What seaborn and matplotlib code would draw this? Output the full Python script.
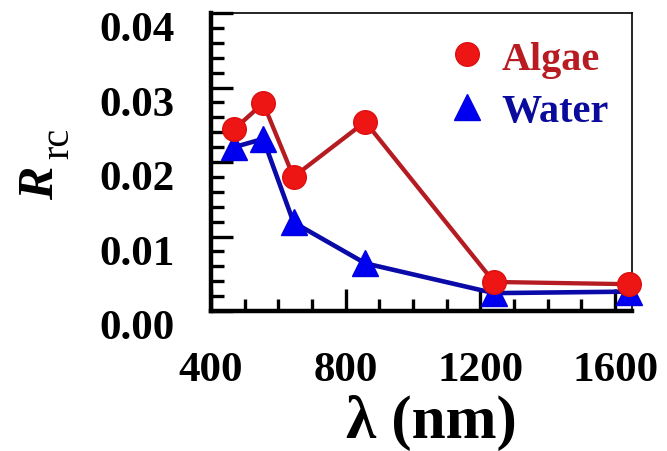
import matplotlib
matplotlib.use("Agg")

import numpy as np
import pandas as pd
import matplotlib.pyplot as plt
import seaborn as sns
from matplotlib.lines import Line2D
from matplotlib.ticker import MultipleLocator, FixedLocator
from matplotlib.transforms import ScaledTranslation

# MODIS band wavelengths (nm)
wavelength = [469, 555, 645, 858, 1240, 1640]
algae = [0.0244, 0.0279, 0.0180, 0.0254, 0.0039, 0.0036]
water = [0.0220, 0.0231, 0.0119, 0.0064, 0.0024, 0.0026]

x_ticks = [400, 800, 1200, 1600]
y_ticks = [0.00, 0.01, 0.02, 0.03, 0.04]
y_tick_labels = ["0.00", "0.01", "0.02", "0.03", "0.04"]

sns.set_style("ticks")
plt.rcParams["font.family"] = ["Liberation Serif", "DejaVu Serif"]
plt.rcParams["font.weight"] = "bold"
for key in ["text.color", "axes.labelcolor", "xtick.color", "ytick.color",
            "axes.edgecolor"]:
    plt.rcParams[key] = "black"

fig = plt.figure(figsize=(6.67, 4.52), dpi=100)
ax = fig.add_axes([211 / 667, 1 - 312 / 452, 421 / 667, 298 / 452])

df = pd.DataFrame({"wl": wavelength, "algae": algae, "water": water})

sns.lineplot(data=df, x="wl", y="water", ax=ax, color="#0a0aa8", lw=3.3,
             marker="^", markersize=19, markerfacecolor="#0000f0",
             markeredgecolor="#0000e0", markeredgewidth=1, clip_on=False,
             zorder=3)
sns.lineplot(data=df, x="wl", y="algae", ax=ax, color="#b51c22", lw=3.1,
             marker="o", markersize=17, markerfacecolor="#ee1515",
             markeredgecolor="#dd1010", markeredgewidth=1, clip_on=False,
             zorder=4)

ax.set_xlim(400, 1650)
ax.set_ylim(0, 0.04)
ax.xaxis.set_major_locator(FixedLocator(x_ticks))
ax.xaxis.set_minor_locator(MultipleLocator(100))
ax.set_yticks(y_ticks)
ax.set_yticklabels(y_tick_labels)
ax.yaxis.set_minor_locator(MultipleLocator(0.002))

for side in ["left", "bottom"]:
    ax.spines[side].set_linewidth(3.2)
for side in ["top", "right"]:
    ax.spines[side].set_linewidth(1.2)

ax.tick_params(axis="both", which="major", direction="in", length=16,
               width=2.4, labelsize=31, color="black", labelcolor="black")
ax.tick_params(axis="both", which="minor", direction="in", length=9,
               width=2.4, color="black")
ax.tick_params(axis="x", which="major", pad=29)
ax.tick_params(axis="y", which="major", pad=26)

for lab in ax.get_xticklabels() + ax.get_yticklabels():
    lab.set_fontweight("bold")

# y tick labels sit a bit below their ticks in the original
shift = ScaledTranslation(0, -13 / 100, fig.dpi_scale_trans)
for tick in ax.yaxis.get_major_ticks():
    tick.label1.set_transform(tick.label1.get_transform() + shift)

ax.set_xlabel("λ (nm)", fontsize=44, fontweight="bold", va="baseline",
              color="black")
ax.xaxis.set_label_coords((431 - 211) / 421, (312 - 438) / 298)
ax.set_ylabel("")

# y label: italic R with plain subscript rc
fig.text(41 / 667, 1 - 183 / 452, "R", rotation=90, fontsize=36,
         fontstyle="italic", fontweight="bold", ha="center", va="center",
         color="black")
fig.text(59 / 667, 1 - 143 / 452, "rc", rotation=90, fontsize=29,
         fontweight="normal", ha="center", va="center", color="black")

handles = [
    Line2D([], [], ls="none", marker="o", markersize=17,
           markerfacecolor="#ee1515", markeredgecolor="#dd1010"),
    Line2D([], [], ls="none", marker="^", markersize=19,
           markerfacecolor="#0000f0", markeredgecolor="#0000e0"),
]
leg = ax.legend(handles, ["Algae", "Water"], loc="upper left",
                bbox_to_anchor=(0.465, 1.03), frameon=False, fontsize=29,
                labelcolor=["#b81c22", "#0a0a9c"], handletextpad=0.25,
                labelspacing=0.38, handlelength=1.2)
for t in leg.get_texts():
    t.set_fontweight("bold")

fig.savefig("out.png", dpi=100)
plt.close(fig)
